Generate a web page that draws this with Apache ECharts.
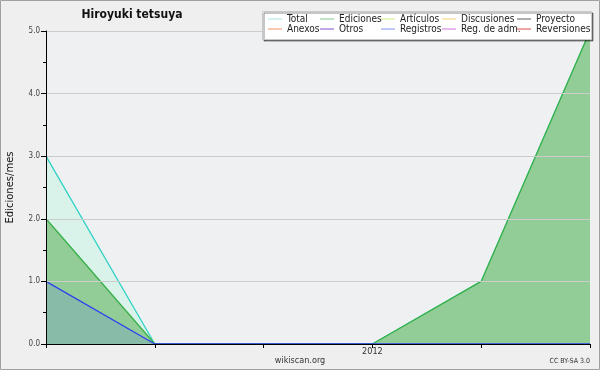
<!DOCTYPE html>
<html><head><meta charset="utf-8">
<script src="https://cdn.jsdelivr.net/npm/echarts@6/dist/echarts.min.js"></script>
<style>html,body{margin:0;padding:0;background:#efefef}#c{width:600px;height:370px}</style>
</head><body><div id="c"></div>
<script>
var categories = ['', '', '', '2012', '', ''];
var totalValues = [3, 0, 0, 0, 1, 5];
var edicionesValues = [2, 0, 0, 0, 1, 5];
var registrosValues = [1, 0, 0, 0, 0, 0];
var yTicks = [0, 1, 2, 3, 4, 5];
var legendNames = ['Total', 'Ediciones', 'Artículos', 'Discusiones', 'Proyecto', 'Anexos', 'Otros', 'Registros', 'Reg. de adm.', 'Reversiones'];
var legendColors = ['#a8e8e8', '#80c890', '#c8f080', '#f8d070', '#606060', '#f09060', '#8050d0', '#8090f0', '#d070e0', '#e04848'];

var FONT = 'DejaVu Sans';
var CFONT = '"DejaVu Sans Condensed", "DejaVu Sans"';
var chart = echarts.init(document.getElementById('c'));

var seriesData = {
  'Total': {data: totalValues, line: '#30d2c6', area: '#d9f2ea'},
  'Ediciones': {data: edicionesValues, line: '#38b048', area: '#92cd98'},
  'Registros': {data: registrosValues, line: '#3040f0', area: '#88bba8'}
};
var drawOrder = ['Total', 'Ediciones', 'Registros'];
var series = [];
drawOrder.forEach(function (n, i) {
  var s = seriesData[n];
  series.push({
    name: n, type: 'line', data: s.data, symbol: 'none', z: 2 + i,
    color: s.line,
    lineStyle: {width: 1.3, color: s.line},
    areaStyle: {color: s.area, opacity: 1}
  });
});
legendNames.forEach(function (n, i) {
  if (!seriesData[n]) series.push({name: n, type: 'line', data: [], color: legendColors[i], symbol: 'none'});
});

var colX = [268, 320, 381, 442, 517];
var legends = [];
for (var c = 0; c < 5; c++) {
  legends.push({
    orient: 'vertical', left: colX[c], top: 14, z: 12,
    icon: 'rect', itemWidth: 14, itemHeight: 1, itemGap: 0,
    padding: 0, selectedMode: false,
    textStyle: {fontFamily: CFONT, fontSize: 10, color: '#222', lineHeight: 10},
    data: [c, c + 5].map(function (k) {
      return {name: legendNames[k], itemStyle: {color: legendColors[k]}};
    })
  });
}

chart.setOption({
  backgroundColor: '#efefef',
  animation: false,
  graphic: [
    {type: 'rect', z: 0, shape: {x: 0.5, y: 0.5, width: 599, height: 369}, style: {fill: null, stroke: '#a0a0a0', lineWidth: 1}},
    {type: 'rect', z: 11, shape: {x: 262.5, y: 11.5, width: 329, height: 28},
      style: {fill: '#ffffff', stroke: '#c8c8c8', lineWidth: 1, shadowColor: 'rgba(0,0,0,0.45)', shadowOffsetX: 1.5, shadowOffsetY: 1.5, shadowBlur: 0}},
    {type: 'text', z: 5, x: 132, y: 15, style: {text: 'Hiroyuki tetsuya', font: 'bold 12px ' + CFONT, fill: '#111', align: 'center', verticalAlign: 'middle'}},
    {type: 'text', z: 5, x: 300, y: 361, style: {text: 'wikiscan.org', font: '9px ' + CFONT, fill: '#333', align: 'center', verticalAlign: 'middle'}},
    {type: 'text', z: 5, x: 590, y: 361, style: {text: 'CC BY-SA 3.0', font: '7px ' + CFONT, fill: '#333', align: 'right', verticalAlign: 'middle'}}
  ],
  legend: legends,
  grid: {left: 46, right: 10, top: 31, bottom: 26, show: true, backgroundColor: '#eff0f2', borderWidth: 0, containLabel: false, outerBoundsMode: 'none'},
  xAxis: {
    type: 'category', data: categories, boundaryGap: false, z: 10,
    axisLine: {lineStyle: {color: '#000', width: 1}},
    axisTick: {show: true, interval: 0, length: 4, lineStyle: {color: '#000'}},
    axisLabel: {interval: 0, fontFamily: CFONT, fontSize: 9, color: '#333', margin: 3},
    splitLine: {show: false}
  },
  yAxis: {
    type: 'value', min: yTicks[0], max: yTicks[yTicks.length - 1], interval: 1, z: 10,
    name: 'Ediciones/mes', nameLocation: 'middle', nameGap: 31,
    nameTextStyle: {fontFamily: FONT, fontSize: 10, color: '#111'},
    axisLine: {show: true, lineStyle: {color: '#000', width: 1}},
    axisTick: {show: true, length: 5, lineStyle: {color: '#000'}},
    minorTick: {show: true, splitNumber: 2, length: 3, lineStyle: {color: '#000'}},
    axisLabel: {fontFamily: CFONT, fontSize: 8, color: '#444', margin: 6, formatter: function (v) { return v.toFixed(1); }},
    splitLine: {show: true, lineStyle: {color: '#cccccc', width: 1}}
  },
  series: series
});
</script></body></html>
